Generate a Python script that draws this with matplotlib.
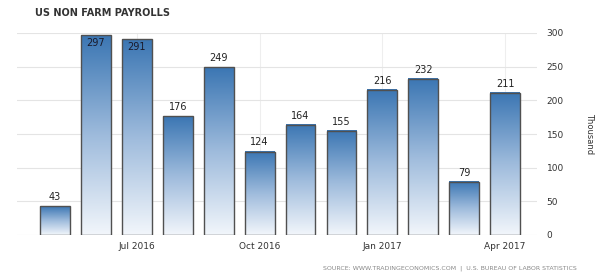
import numpy as np
import matplotlib
matplotlib.use("Agg")
import matplotlib.pyplot as plt
from matplotlib.colors import LinearSegmentedColormap

months = ['May 2016', 'Jun 2016', 'Jul 2016', 'Aug 2016', 'Sep 2016', 'Oct 2016',
          'Nov 2016', 'Dec 2016', 'Jan 2017', 'Feb 2017', 'Mar 2017', 'Apr 2017']
payrolls = [43, 297, 291, 176, 249, 124, 164, 155, 216, 232, 79, 211]
tick_labels = ['Jul 2016', 'Oct 2016', 'Jan 2017', 'Apr 2017']
y_ticks = [0, 50, 100, 150, 200, 250, 300]

fig = plt.figure(figsize=(5.98, 2.78), dpi=100)
ax = fig.add_axes([17/598, 43/278, 520/598, 202/278])

x = np.arange(len(payrolls))
w = 0.73
cmap = LinearSegmentedColormap.from_list('tec', ['#f2f6fb', '#9ebbdc', '#3b76b3'])
grad = np.linspace(0, 1, 256).reshape(-1, 1)

# gradient fill for each bar
for xi, v in zip(x, payrolls):
    ax.imshow(grad, extent=(xi - w/2, xi + w/2, 0, v), origin='lower',
              cmap=cmap, aspect='auto', zorder=2)
ax.bar(x, payrolls, width=w, facecolor='none', edgecolor='#505050',
       linewidth=1.0, zorder=3)

for xi, v in zip(x, payrolls):
    if v > 285:
        ax.text(xi, v - 4, str(v), ha='center', va='top', fontsize=7,
                color='#1a1a2a', zorder=4)
    else:
        ax.text(xi, v + 6, str(v), ha='center', va='bottom', fontsize=7,
                color='#222222', zorder=4)

ax.set_xlim(-0.93, 11.78)
ax.set_ylim(0, 300)

tick_pos = [months.index(m) for m in tick_labels]
ax.set_xticks(tick_pos)
ax.set_xticklabels(tick_labels, fontsize=6.5, color='#333333')
ax.set_yticks(y_ticks)
ax.yaxis.tick_right()
ax.set_yticklabels([str(t) for t in y_ticks], fontsize=6.5, color='#333333')
ax.tick_params(axis='both', length=0, pad=5)
ax.tick_params(axis='y', pad=7)

ax.grid(axis='y', color='#e4e4e4', linewidth=0.8, zorder=0)
ax.grid(axis='x', color='#eeeeee', linewidth=0.8, zorder=0)
for s in ax.spines.values():
    s.set_visible(False)

ax.yaxis.set_label_position('right')
ax.set_ylabel('Thousand', rotation=-90, fontsize=6, color='#333333', labelpad=22)

fig.text(35/598, 1 - 13/278, 'US NON FARM PAYROLLS', fontsize=7, color='#333333',
         fontweight='bold', va='center', ha='left')
fig.text(577/598, 1 - 268/278,
         'SOURCE: WWW.TRADINGECONOMICS.COM  |  U.S. BUREAU OF LABOR STATISTICS',
         fontsize=4.5, color='#888888', ha='right', va='center')

fig.savefig('out.png', dpi=100)
